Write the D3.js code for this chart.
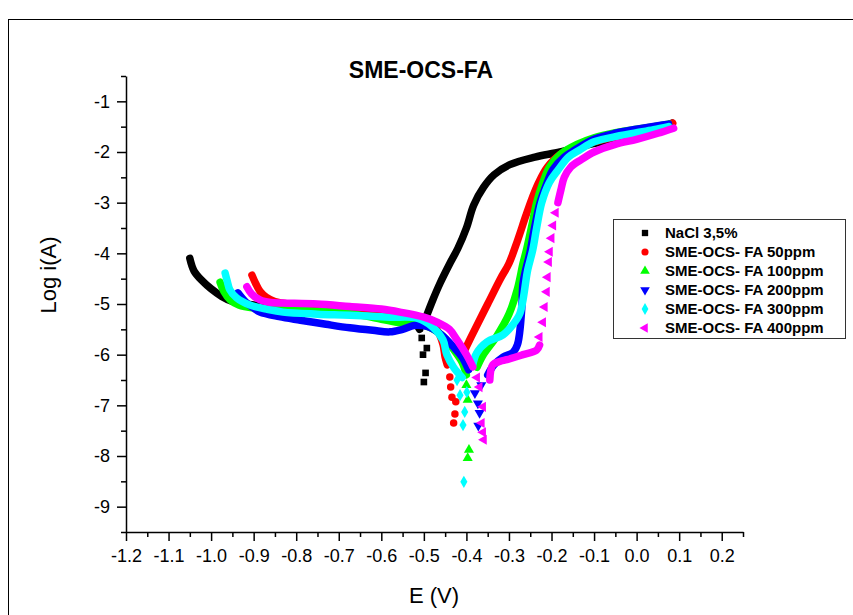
<!DOCTYPE html>
<html>
<head>
<meta charset="utf-8">
<script src="https://cdn.jsdelivr.net/npm/d3@7"></script>
<style>
  body { margin: 0; background: #fff; }
  text { font-family: "Liberation Sans", Arial, sans-serif; }
</style>
</head>
<body>
<script>
// E (V), log i (A) pairs
// "line" = dense part of each scan, "dots" = scattered points near Ecorr
var naclLine = [[-1.05,-4.1],[-1.04,-4.35],[-1.02,-4.55],[-1.0,-4.7],[-0.975,-4.85],[-0.95,-4.95],[-0.9,-5.02],[-0.8,-5.1],[-0.7,-5.15],[-0.6,-5.2],[-0.53,-5.3],[-0.51,-5.5]];
var naclDots = [[-0.505,-5.67],[-0.493,-5.87],[-0.502,-6.0],[-0.496,-6.36],[-0.5,-6.54]];
var naclLine2 = [[-0.493,-5.22],[-0.479,-4.92],[-0.462,-4.59],[-0.439,-4.2],[-0.42,-3.9],[-0.4,-3.5],[-0.383,-3.05],[-0.36,-2.7],[-0.335,-2.45],[-0.298,-2.25],[-0.239,-2.1],[-0.18,-2.0],[-0.11,-1.85],[-0.016,-1.7],[0.054,-1.55],[0.083,-1.43]];

var fa50Line = [[-0.904,-4.43],[-0.895,-4.6],[-0.885,-4.75],[-0.87,-4.87],[-0.85,-4.95],[-0.8,-5.02],[-0.75,-5.08],[-0.7,-5.12],[-0.65,-5.14],[-0.6,-5.15],[-0.55,-5.2],[-0.5,-5.3],[-0.47,-5.5],[-0.455,-5.8],[-0.45,-6.05],[-0.445,-6.2]];
var fa50Dots = [[-0.439,-6.44],[-0.437,-6.64],[-0.434,-6.84],[-0.425,-6.93],[-0.427,-7.17],[-0.43,-7.35]];
var fa50Line2 = [[-0.404,-5.91],[-0.38,-5.5],[-0.35,-5.0],[-0.32,-4.5],[-0.3,-4.2],[-0.28,-3.75],[-0.26,-3.25],[-0.245,-2.9],[-0.23,-2.6],[-0.21,-2.3],[-0.18,-2.05],[-0.14,-1.9],[-0.1,-1.8],[-0.05,-1.7],[0.0,-1.62],[0.05,-1.52],[0.085,-1.43]];

var fa100Line = [[-0.979,-4.57],[-0.97,-4.75],[-0.955,-4.92],[-0.935,-5.02],[-0.9,-5.08],[-0.85,-5.1],[-0.8,-5.12],[-0.72,-5.16],[-0.65,-5.22],[-0.6,-5.3],[-0.55,-5.38],[-0.5,-5.42],[-0.46,-5.6],[-0.43,-5.9],[-0.41,-6.15],[-0.4,-6.4]];
var fa100Dots = [[-0.4,-6.6],[-0.397,-6.89],[-0.394,-7.88],[-0.397,-8.04]];
var fa100Line2 = [[-0.375,-6.25],[-0.36,-6.0],[-0.33,-5.65],[-0.3,-5.2],[-0.28,-4.7],[-0.267,-4.2],[-0.258,-3.9],[-0.245,-3.4],[-0.235,-3.0],[-0.22,-2.6],[-0.205,-2.3],[-0.18,-2.05],[-0.14,-1.85],[-0.1,-1.72],[-0.05,-1.62],[0.0,-1.55],[0.04,-1.5],[0.075,-1.45]];

var fa200Line = [[-0.937,-4.78],[-0.92,-4.95],[-0.9,-5.08],[-0.885,-5.16],[-0.84,-5.25],[-0.79,-5.32],[-0.73,-5.4],[-0.674,-5.47],[-0.62,-5.52],[-0.58,-5.55],[-0.55,-5.5],[-0.52,-5.42],[-0.49,-5.45],[-0.46,-5.6],[-0.43,-5.85],[-0.41,-6.05],[-0.395,-6.3]];
var fa200Dots = [[-0.365,-6.6],[-0.38,-6.76],[-0.373,-6.96],[-0.369,-7.15],[-0.372,-7.4]];
var fa200Line2 = [[-0.35,-6.4],[-0.335,-6.2],[-0.314,-6.05],[-0.29,-5.95],[-0.28,-5.8],[-0.275,-5.57],[-0.27,-5.1],[-0.267,-4.6],[-0.26,-4.3],[-0.251,-4.0],[-0.24,-3.5],[-0.227,-3.0],[-0.21,-2.6],[-0.197,-2.35],[-0.17,-2.1],[-0.145,-1.96],[-0.1,-1.75],[-0.05,-1.63],[0.0,-1.55],[0.05,-1.48],[0.075,-1.45]];

var fa300Line = [[-0.967,-4.39],[-0.962,-4.55],[-0.956,-4.72],[-0.94,-4.88],[-0.909,-5.02],[-0.87,-5.1],[-0.831,-5.16],[-0.75,-5.2],[-0.674,-5.22],[-0.58,-5.26],[-0.516,-5.28],[-0.48,-5.45],[-0.455,-5.71],[-0.446,-6.0],[-0.43,-6.25],[-0.41,-6.45]];
var fa300Dots = [[-0.422,-6.5],[-0.415,-6.8],[-0.399,-6.74],[-0.404,-7.13],[-0.408,-7.39],[-0.406,-8.51]];
var fa300Line2 = [[-0.385,-6.2],[-0.376,-5.97],[-0.352,-5.75],[-0.314,-5.61],[-0.291,-5.41],[-0.275,-5.2],[-0.267,-4.92],[-0.256,-4.33],[-0.244,-3.93],[-0.235,-3.5],[-0.223,-3.0],[-0.205,-2.6],[-0.185,-2.36],[-0.16,-2.1],[-0.134,-1.96],[-0.1,-1.8],[-0.04,-1.68],[0.0,-1.62],[0.04,-1.56],[0.075,-1.5]];

var fa400Line = [[-0.916,-4.66],[-0.905,-4.8],[-0.885,-4.92],[-0.86,-4.97],[-0.831,-4.98],[-0.75,-5.0],[-0.674,-5.05],[-0.6,-5.1],[-0.556,-5.16],[-0.5,-5.26],[-0.469,-5.36],[-0.44,-5.5],[-0.422,-5.71],[-0.4,-6.0],[-0.385,-6.24]];
var fa400Dots = [[-0.375,-6.45],[-0.369,-6.64],[-0.361,-7.03],[-0.364,-7.35],[-0.361,-7.53],[-0.359,-7.68],
  [-0.228,-5.65],[-0.22,-5.36],[-0.216,-5.06],[-0.211,-4.76],[-0.209,-4.47],[-0.206,-4.17],[-0.204,-3.97],[-0.2,-3.7],[-0.196,-3.45],[-0.19,-3.2]];
var fa400Line2 = [[-0.345,-6.5],[-0.338,-6.2],[-0.32,-6.13],[-0.305,-6.1],[-0.267,-6.0],[-0.235,-5.91],[-0.228,-5.81]];
var fa400Line3 = [[-0.185,-3.0],[-0.178,-2.75],[-0.17,-2.5],[-0.155,-2.3],[-0.13,-2.15],[-0.1,-2.0],[-0.05,-1.85],[0.0,-1.75],[0.05,-1.63],[0.087,-1.53]];

var seriesNames = ["NaCl 3,5%", "SME-OCS- FA 50ppm", "SME-OCS- FA 100ppm", "SME-OCS- FA 200ppm", "SME-OCS- FA 300ppm", "SME-OCS- FA 400ppm"];
var seriesColors = ["#000000", "#ff0000", "#00ff00", "#0000ff", "#00ffff", "#ff00ff"];
var xTicks = [-1.2, -1.1, -1.0, -0.9, -0.8, -0.7, -0.6, -0.5, -0.4, -0.3, -0.2, -0.1, 0.0, 0.1, 0.2];
var yTicks = [-9, -8, -7, -6, -5, -4, -3, -2, -1];

var series = [
  {lines: [naclLine, naclLine2], dots: naclDots, sym: d3.symbolSquare},
  {lines: [fa50Line, fa50Line2], dots: fa50Dots, sym: d3.symbolCircle},
  {lines: [fa100Line, fa100Line2], dots: fa100Dots, sym: d3.symbolTriangle},
  {lines: [fa200Line, fa200Line2], dots: fa200Dots, sym: d3.symbolTriangle, rot: 180},
  {lines: [fa300Line, fa300Line2], dots: fa300Dots, sym: d3.symbolDiamond},
  {lines: [fa400Line, fa400Line2, fa400Line3], dots: fa400Dots, sym: d3.symbolTriangle, rot: -90}
];

var W = 853, H = 615;
var margin = {top: 76, left: 126},
    width = 617,
    height = 456;

var svg = d3.select("body").append("svg")
    .attr("width", W)
    .attr("height", H);

// outer frame (only top and left edges are visible)
svg.append("rect")
    .attr("x", 8.5).attr("y", 19.5)
    .attr("width", 1000).attr("height", 1000)
    .attr("fill", "none").attr("stroke", "#000").attr("stroke-width", 1);

var x = d3.scaleLinear().domain([-1.2, 0.25]).range([0, width]);
var y = d3.scaleLinear().domain([-9.5, -0.5]).range([height, 0]);

var g = svg.append("g")
    .attr("transform", "translate(" + margin.left + "," + margin.top + ")");

// minor ticks
var xMinor = d3.range(-23, 6, 2).map(function(d) { return d / 20; });
var yMinor = d3.range(-19, 0, 2).map(function(d) { return d / 2; });

g.append("g")
    .attr("transform", "translate(0," + height + ")")
    .call(d3.axisBottom(x).tickValues(xMinor).tickSize(5).tickFormat(""))
    .call(function(a) { a.select(".domain").remove(); });
g.append("g")
    .call(d3.axisLeft(y).tickValues(yMinor).tickSize(5).tickFormat(""))
    .call(function(a) { a.select(".domain").remove(); });

// axis-x
g.append("g")
    .attr("class", "axis")
    .attr("transform", "translate(0," + height + ")")
    .call(d3.axisBottom(x).tickValues(xTicks).tickSize(9).tickSizeOuter(0).tickPadding(8)
      .tickFormat(d3.format(".1f")));

// axis-y
g.append("g")
    .attr("class", "axis")
    .call(d3.axisLeft(y).tickValues(yTicks).tickSize(9).tickSizeOuter(0).tickPadding(7)
      .tickFormat(d3.format("d")));

g.selectAll(".axis text")
    .attr("font-size", "18px")
    .attr("fill", "#000")
    .text(function() { return this.textContent.replace("\u2212", "-"); });
g.selectAll(".tick line").attr("stroke", "#000").attr("stroke-width", 1.5);
g.selectAll(".domain").attr("stroke", "#000").attr("stroke-width", 1.5);

// curves
var line = d3.line()
    .x(function(d) { return x(d[0]); })
    .y(function(d) { return y(d[1]); })
    .curve(d3.curveCatmullRom.alpha(0.5));

series.forEach(function(s, i) {
  var sg = g.append("g");
  s.lines.forEach(function(pts) {
    sg.append("path")
      .attr("d", line(pts))
      .attr("fill", "none")
      .attr("stroke", seriesColors[i])
      .attr("stroke-width", 7.5)
      .attr("stroke-linejoin", "round")
      .attr("stroke-linecap", "round");
  });
  sg.selectAll(".dot")
    .data(s.dots)
    .enter().append("path")
      .attr("class", "dot")
      .attr("d", d3.symbol().type(s.sym).size(44))
      .attr("transform", function(d) {
        return "translate(" + x(d[0]) + "," + y(d[1]) + ") rotate(" + (s.rot || 0) + ")";
      })
      .attr("fill", seriesColors[i]);
});

// title
svg.append("text")
    .attr("x", 421).attr("y", 78)
    .attr("text-anchor", "middle")
    .attr("font-size", "23px")
    .attr("font-weight", "bold")
    .text("SME-OCS-FA");

// axis titles
svg.append("text")
    .attr("x", 434).attr("y", 603)
    .attr("text-anchor", "middle")
    .attr("font-size", "22px")
    .text("E (V)");

svg.append("text")
    .attr("transform", "translate(56,275) rotate(-90)")
    .attr("text-anchor", "middle")
    .attr("font-size", "22px")
    .text("Log i(A)");

// legend
var leg = svg.append("g");
leg.append("rect")
    .attr("x", 613.5).attr("y", 219.5)
    .attr("width", 232).attr("height", 119)
    .attr("fill", "#fff").attr("stroke", "#333").attr("stroke-width", 1);

seriesNames.forEach(function(name, i) {
  var yy = 233 + i * 19;
  leg.append("path")
    .attr("d", d3.symbol().type(series[i].sym).size(40))
    .attr("transform", "translate(645," + yy + ") rotate(" + (series[i].rot || 0) + ")")
    .attr("fill", seriesColors[i]);
  leg.append("text")
    .attr("x", 665).attr("y", yy + 5)
    .attr("font-size", "15px")
    .attr("font-weight", "bold")
    .text(name);
});
</script>
</body>
</html>
